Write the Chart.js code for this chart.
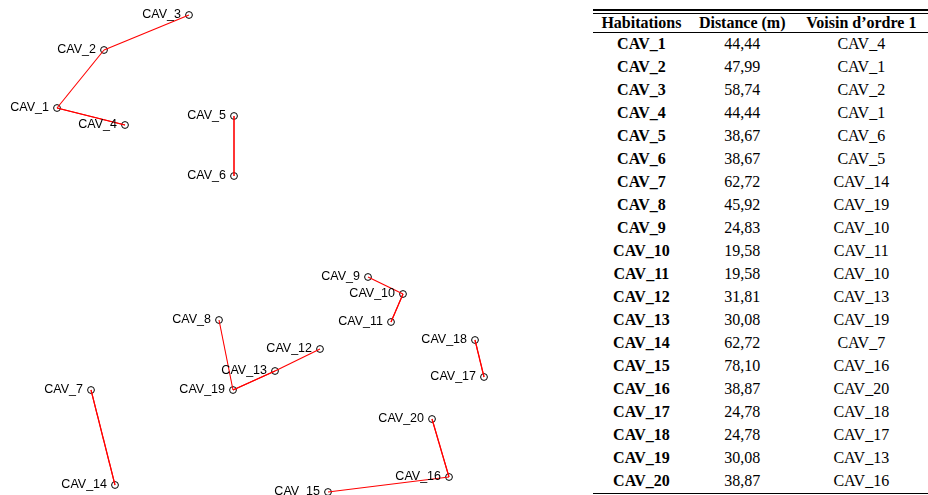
<!DOCTYPE html>
<html>
<head>
<meta charset="utf-8">
<script src="https://cdn.jsdelivr.net/npm/chart.js@4"></script>
<style>
  body { margin: 0; background: #fff; width: 928px; height: 495px; overflow: hidden; position: relative; }
  #plot { position: absolute; left: 0; top: 0; }
  #tbl { position: absolute; left: 593px; top: 9px; width: 335px;
         border-top: 2px solid #000; border-bottom: 2px solid #000; padding: 1.5px 0 1.5px 0; }
  table { width: 100%; border-collapse: collapse; font-family: "Liberation Serif", serif; font-size: 16px; color: #000;
          border-top: 1px solid #000; border-bottom: 1px solid #000; }
  th { font-weight: bold; height: 18px; padding: 0; border-bottom: 1.5px solid #000; line-height: 18px; }
  td { text-align: center; height: 23px; padding: 0; line-height: 22px; }
  td.h { font-weight: bold; }
</style>
</head>
<body>
<canvas id="plot" width="520" height="495"></canvas>
<div id="tbl"><table id="t"></table></div>
<script>
// habitations and their positions (x east, y north, picture units)
const names = ["CAV_1","CAV_2","CAV_3","CAV_4","CAV_5","CAV_6","CAV_7","CAV_8","CAV_9","CAV_10",
               "CAV_11","CAV_12","CAV_13","CAV_14","CAV_15","CAV_16","CAV_17","CAV_18","CAV_19","CAV_20"];
const xs = [57, 104, 189, 125, 234, 234, 91, 219, 368, 403, 391, 320, 275, 115, 328, 449, 484, 475, 233, 432];
const ys = [387, 445, 480, 370, 379, 319, 105, 175, 218, 201, 173, 146, 124, 10, 3, 18, 118, 155, 105, 76];

// table columns
const distances = ["44,44","47,99","58,74","44,44","38,67","38,67","62,72","45,92","24,83","19,58",
                   "19,58","31,81","30,08","62,72","78,10","38,87","24,78","24,78","30,08","38,87"];
const voisins = ["CAV_4","CAV_1","CAV_2","CAV_1","CAV_6","CAV_5","CAV_14","CAV_19","CAV_10","CAV_11",
                 "CAV_10","CAV_13","CAV_19","CAV_7","CAV_16","CAV_20","CAV_18","CAV_17","CAV_13","CAV_16"];
const headers = ["Habitations", "Distance (m)", "Voisin d\u2019ordre 1"];

// build table
const t = document.getElementById("t");
let html = "<tr>" + headers.map(h => "<th>" + h + "</th>").join("") + "</tr>";
names.forEach((n, i) => {
  html += "<tr><td class='h'>" + n + "</td><td>" + distances[i] + "</td><td>" + voisins[i] + "</td></tr>";
});
t.innerHTML = html;

// chart datasets: one red segment from each habitation to its nearest neighbour
const pts = names.map((n, i) => ({ x: xs[i], y: ys[i] }));
const datasets = [];
names.forEach((n, i) => {
  const j = names.indexOf(voisins[i]);
  datasets.push({
    type: "line",
    data: [pts[i], pts[j]],
    borderColor: "#ff0000",
    borderWidth: 1.1,
    pointRadius: 0,
    fill: false,
    order: 0,
  });
});
datasets.push({
  type: "scatter",
  data: pts,
  pointStyle: "circle",
  pointRadius: 3.4,
  borderColor: "#000",
  borderWidth: 1,
  backgroundColor: "rgba(0,0,0,0)",
  order: 1,
});

const labelPlugin = {
  id: "labels",
  afterDatasetsDraw(chart) {
    const c = chart.ctx;
    const sx = chart.scales.x, sy = chart.scales.y;
    c.save();
    c.font = "12.5px 'Liberation Sans', Arial, sans-serif";
    c.fillStyle = "#000";
    c.textAlign = "right";
    c.textBaseline = "middle";
    names.forEach((n, i) => {
      c.fillText(n, sx.getPixelForValue(xs[i]) - 8, sy.getPixelForValue(ys[i]) - 0.5);
    });
    c.restore();
  },
};

new Chart(document.getElementById("plot").getContext("2d"), {
  data: { datasets: datasets },
  options: {
    responsive: false,
    animation: false,
    layout: { padding: 0, autoPadding: false },
    scales: {
      x: { type: "linear", min: 0, max: 520, display: false },
      y: { type: "linear", min: 0, max: 495, display: false },
    },
    plugins: { legend: { display: false }, tooltip: { enabled: false } },
  },
  plugins: [labelPlugin],
});
</script>
</body>
</html>
